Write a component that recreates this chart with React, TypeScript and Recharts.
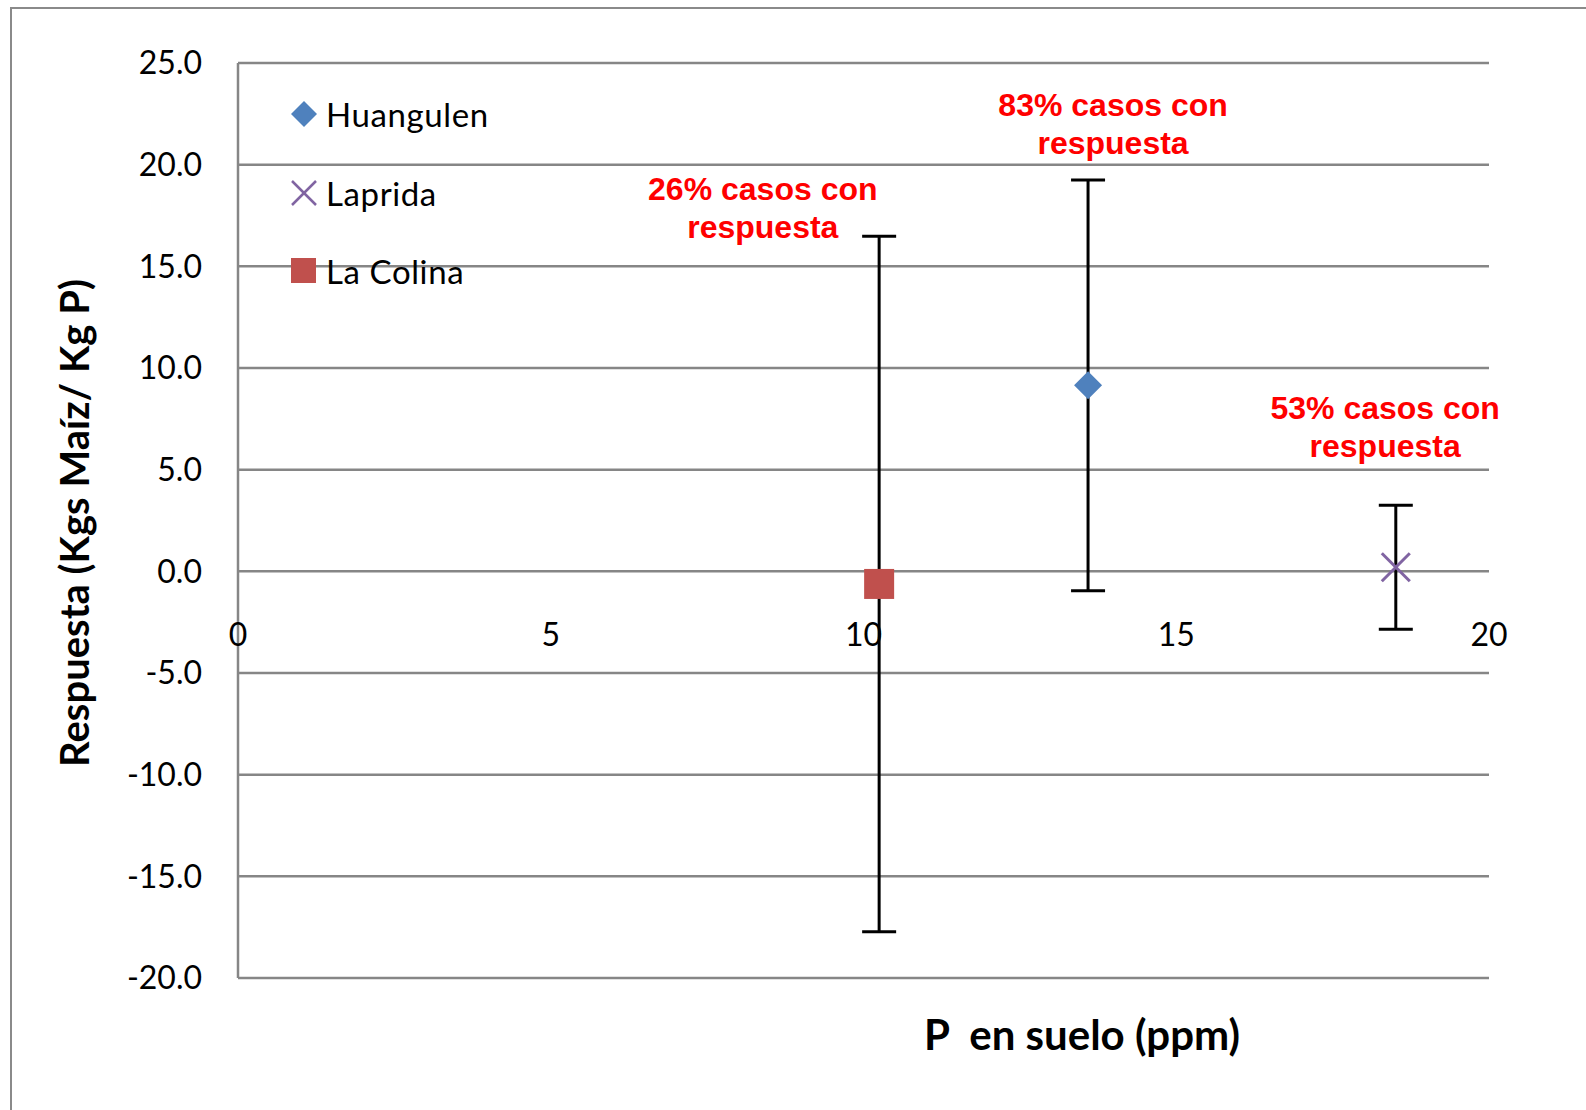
import React from 'react';
import { ScatterChart, Scatter, XAxis, YAxis, CartesianGrid, ErrorBar, Legend } from 'recharts';

// ---- data ----
const xTicks = [0, 5, 10, 15, 20];
const yTicks = [-20, -15, -10, -5, 0, 5, 10, 15, 20, 25];

const huangulen = [{ p: 13.59, r: 9.15, err: 10.1 }];
const laprida = [{ p: 18.51, r: 0.2, err: 3.05 }];
const laColina = [{ p: 10.25, r: -0.62, err: 17.1 }];

const annotations = [
  { p: 8.39, r: 17.87, lines: ['26% casos con', 'respuesta'] },
  { p: 13.99, r: 22.0, lines: ['83% casos con', 'respuesta'] },
  { p: 18.34, r: 7.1, lines: ['53% casos con', 'respuesta'] },
];

const xTitle = 'P  en suelo (ppm)';
const yTitle = 'Respuesta (Kgs Maíz/ Kg P)';

// ---- layout ----
const W = 1586;
const H = 1110;
const PLOT_LEFT = 238;
const PLOT_RIGHT = 1489;
const PLOT_TOP = 63;
const PLOT_BOTTOM = 978;
const X_AXIS_H = 30;
const Y_MIN = -20;
const Y_MAX = 25;
const ZERO_Y = PLOT_TOP + ((PLOT_BOTTOM - PLOT_TOP) * (Y_MAX - 0)) / (Y_MAX - Y_MIN);

const GRID = '#868686';
const TICK_FONT = 'Lato, "Open Sans", sans-serif';
const C_HUANG = '#4F81BD';
const C_LAPR = '#8064A2';
const C_COL = '#C0504D';

const Diamond = (props: any) => {
  const { cx, cy } = props;
  const s = 14;
  return <polygon points={`${cx},${cy - s} ${cx + s},${cy} ${cx},${cy + s} ${cx - s},${cy}`} fill={C_HUANG} />;
};
const XMark = (props: any) => {
  const { cx, cy } = props;
  const s = 14;
  return (
    <g stroke={C_LAPR} strokeWidth={3}>
      <line x1={cx - s} y1={cy - s} x2={cx + s} y2={cy + s} />
      <line x1={cx - s} y1={cy + s} x2={cx + s} y2={cy - s} />
    </g>
  );
};
const Square = (props: any) => {
  const { cx, cy } = props;
  const s = 15;
  return <rect x={cx - s} y={cy - s} width={2 * s} height={2 * s} fill={C_COL} />;
};
const AnnotationText = (props: any) => {
  const { cx, cy, payload } = props;
  const lines: string[] = payload.lines;
  return (
    <text
      x={cx}
      y={cy}
      textAnchor="middle"
      fill="#FF0000"
      fontFamily='"Liberation Sans", Arial, sans-serif'
      fontWeight="bold"
      fontSize={32}
    >
      {lines.map((l, i) => (
        <tspan key={i} x={cx} y={cy + (i - (lines.length - 1) / 2) * 38} dominantBaseline="central">
          {l}
        </tspan>
      ))}
    </text>
  );
};

const XTick = (props: any) => {
  const { x, payload } = props;
  return (
    <text x={x} y={ZERO_Y + 62} textAnchor="middle" dominantBaseline="central" fontFamily={TICK_FONT} fontSize={32} fill="#000">
      {payload.value}
    </text>
  );
};

const legendItems = [
  { name: 'Huangulen', icon: 'diamond', color: C_HUANG },
  { name: 'Laprida', icon: 'x', color: C_LAPR },
  { name: 'La Colina', icon: 'square', color: C_COL },
];

const LegendContent = () => (
  <div style={{ fontFamily: TICK_FONT, fontSize: 33, color: '#000' }}>
    {legendItems.map((it) => (
      <div key={it.name} style={{ display: 'flex', alignItems: 'center', height: 78.5 }}>
        <svg width={30} height={30} style={{ marginRight: 7 }}>
          {it.icon === 'diamond' && <polygon points="15,2 28,15 15,28 2,15" fill={it.color} />}
          {it.icon === 'x' && (
            <g stroke={it.color} strokeWidth={2.5}>
              <line x1={3} y1={3} x2={27} y2={27} />
              <line x1={3} y1={27} x2={27} y2={3} />
            </g>
          )}
          {it.icon === 'square' && <rect x={2} y={2} width={25} height={25} fill={it.color} />}
        </svg>
        <span style={{ whiteSpace: 'pre', letterSpacing: 0.6 }}>{it.name}</span>
      </div>
    ))}
  </div>
);

export default function App() {
  return (
    <div style={{ position: 'absolute', left: 0, top: 0, width: W, height: H, overflow: 'hidden', background: '#fff' }}>
      <div
        style={{
          position: 'absolute',
          left: 10,
          top: 7,
          width: W + 40,
          height: H + 40,
          border: '2px solid #8a8a8a',
        }}
      />
      <div style={{ position: 'absolute', left: 0, top: 0 }}>
        <ScatterChart
          width={W}
          height={H}
          margin={{ top: PLOT_TOP, right: W - PLOT_RIGHT, bottom: H - PLOT_BOTTOM - X_AXIS_H, left: 0 }}
        >
          <CartesianGrid vertical={false} stroke={GRID} strokeWidth={2.5} />
          <XAxis
            type="number"
            dataKey="p"
            domain={[0, 20]}
            ticks={xTicks}
            height={X_AXIS_H}
            axisLine={false}
            tickLine={false}
            tick={<XTick />}
            interval={0}
          />
          <YAxis
            type="number"
            dataKey="r"
            domain={[Y_MIN, Y_MAX]}
            ticks={yTicks}
            width={PLOT_LEFT}
            axisLine={{ stroke: GRID, strokeWidth: 2.5 }}
            tickLine={false}
            tickSize={0}
            tickMargin={36}
            interval={0}
            tickFormatter={(v: number) => v.toFixed(1)}
            tick={{ fontFamily: TICK_FONT, fontSize: 32, fill: '#000' }}
          />
          <Legend
            layout="horizontal"
            verticalAlign="middle"
            align="center"
            content={<LegendContent />}
            wrapperStyle={{ left: 289, top: 75, width: 'auto' }}
          />
          <Scatter name="Laprida" data={laprida} shape={<XMark />} isAnimationActive={false}>
            <ErrorBar dataKey="err" direction="y" stroke="#000" strokeWidth={3} width={17} />
          </Scatter>
          <Scatter name="La Colina" data={laColina} shape={<Square />} isAnimationActive={false}>
            <ErrorBar dataKey="err" direction="y" stroke="#000" strokeWidth={3} width={17} />
          </Scatter>
          <Scatter name="Huangulen" data={huangulen} shape={<Diamond />} isAnimationActive={false}>
            <ErrorBar dataKey="err" direction="y" stroke="#000" strokeWidth={3} width={17} />
          </Scatter>
          <Scatter name="annotations" data={annotations} shape={<AnnotationText />} legendType="none" isAnimationActive={false} />
        </ScatterChart>
      </div>
      <svg style={{ position: 'absolute', left: 0, top: 0, pointerEvents: 'none' }} width={W} height={H}>
        <text
          x={74}
          y={523}
          transform="rotate(-90 74 523)"
          textAnchor="middle"
          dominantBaseline="central"
          fontFamily={TICK_FONT}
          fontWeight="bold"
          fontSize={40}
          fill="#000"
        >
          {yTitle}
        </text>
        <text
          x={1082}
          y={1034}
          textAnchor="middle"
          dominantBaseline="central"
          fontFamily={TICK_FONT}
          fontWeight="bold"
          fontSize={42}
          fill="#000"
          style={{ whiteSpace: 'pre' }}
        >
          {xTitle}
        </text>
      </svg>
    </div>
  );
}
